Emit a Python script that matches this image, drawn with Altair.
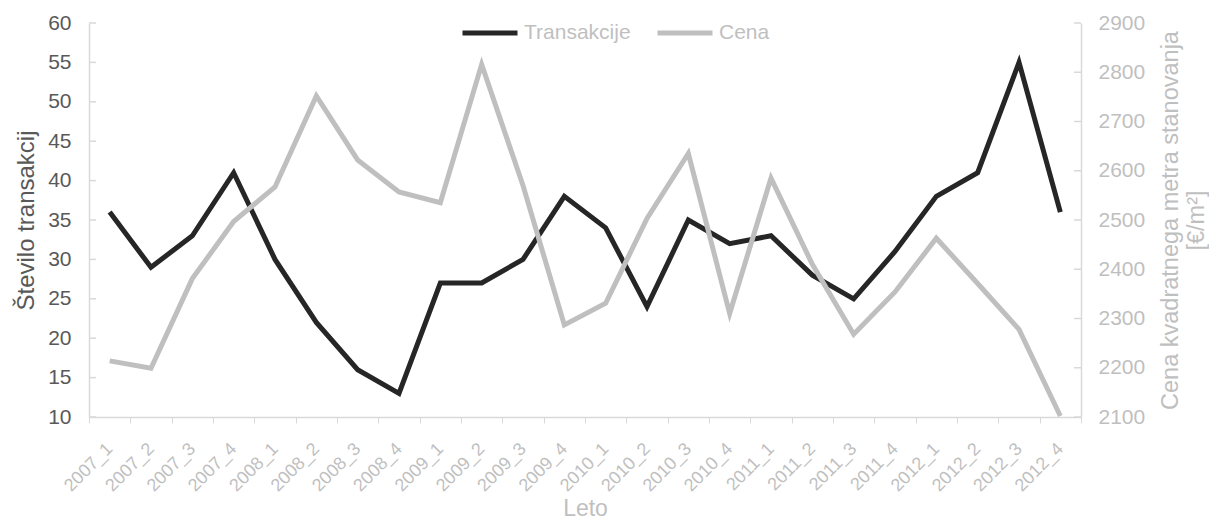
import altair as alt
import pandas as pd

# Quarterly periods 2007-2012
obdobja = [
    "2007_1", "2007_2", "2007_3", "2007_4",
    "2008_1", "2008_2", "2008_3", "2008_4",
    "2009_1", "2009_2", "2009_3", "2009_4",
    "2010_1", "2010_2", "2010_3", "2010_4",
    "2011_1", "2011_2", "2011_3", "2011_4",
    "2012_1", "2012_2", "2012_3", "2012_4",
]

# Number of transactions per quarter (left axis)
transakcije = [36, 29, 33, 41, 30, 22, 16, 13, 27, 27, 30, 38,
               34, 24, 35, 32, 33, 28, 25, 31, 38, 41, 55, 36]

# Price per square metre of dwelling, EUR/m2 (right axis)
cena = [2214, 2199, 2381, 2497, 2567, 2752, 2622, 2557, 2535, 2816, 2570, 2287,
        2331, 2503, 2635, 2310, 2585, 2410, 2268, 2354, 2463, 2371, 2278, 2102]

# Axis tick values of both value axes
levi_tiki = list(range(10, 61, 5))
desni_tiki = list(range(2100, 2901, 100))

serije = ["Transakcije", "Cena"]
barve = ["#262626", "#bfbfbf"]

df_t = pd.DataFrame({"obdobje": obdobja, "vrednost": transakcije, "serija": serije[0]})
df_c = pd.DataFrame({"obdobje": obdobja, "vrednost": cena, "serija": serije[1]})

FONT = "Liberation Sans"
AXIS_LINE = "#d9d9d9"
DARK_TEXT = "#595959"
LIGHT_TEXT = "#bfbfbf"
W, H = 992, 394
TICK = 7

levo_scale = alt.Scale(domain=[10, 60], nice=False, zero=False)
desno_scale = alt.Scale(domain=[2100, 2900], nice=False, zero=False)

x_enc = alt.X(
    "obdobje:N",
    sort=obdobja,
    scale=alt.Scale(type="band", domain=obdobja, paddingInner=0, paddingOuter=0),
    axis=alt.Axis(
        title="Leto",
        titleColor=LIGHT_TEXT,
        titleFontSize=23,
        titleFontWeight="normal",
        titleFont=FONT,
        titleBaseline="alphabetic",
        titleY=98,
        labelAngle=-45,
        labelAlign="right",
        labelBaseline="middle",
        labelColor=LIGHT_TEXT,
        labelFontSize=18,
        labelFont=FONT,
        labelPadding=23,
        tickBand="extent",
        tickSize=6,
        tickColor=AXIS_LINE,
        domainColor=AXIS_LINE,
        domainWidth=1.5,
    ),
)

color_enc = alt.Color(
    "serija:N",
    scale=alt.Scale(domain=serije, range=barve),
    legend=alt.Legend(
        title=None,
        orient="none",
        direction="horizontal",
        legendX=371,
        legendY=-20,
        symbolType="stroke",
        symbolSize=3025,
        symbolStrokeWidth=5,
        labelColor=LIGHT_TEXT,
        labelFontSize=21,
        labelFont=FONT,
        labelOffset=4,
        columnPadding=16,
    ),
)

line_t = alt.Chart(df_t).mark_line(strokeWidth=5, strokeJoin="miter").encode(
    x=x_enc,
    y=alt.Y(
        "vrednost:Q",
        scale=levo_scale,
        axis=alt.Axis(
            title="Število transakcij",
            titleColor=DARK_TEXT,
            titleFontSize=24,
            titleFontWeight="normal",
            titleFont=FONT,
            titlePadding=9,
            values=levi_tiki,
            format="d",
            labelColor=DARK_TEXT,
            labelFontSize=21,
            labelFont=FONT,
            labelPadding=18,
            tickSize=0,
            domainColor=AXIS_LINE,
            domainWidth=1.5,
            grid=False,
        ),
    ),
    color=color_enc,
)

line_c = alt.Chart(df_c).mark_line(strokeWidth=5, strokeJoin="miter").encode(
    x=x_enc,
    y=alt.Y(
        "vrednost:Q",
        scale=desno_scale,
        axis=alt.Axis(
            orient="right",
            title=["Cena kvadratnega metra stanovanja", "[€/m²]"],
            titleAngle=270,
            titleColor=LIGHT_TEXT,
            titleFontSize=23.5,
            titleFontWeight="normal",
            titleFont=FONT,
            titlePadding=12,
            titleLineHeight=26,
            values=desni_tiki,
            format="d",
            labelColor=LIGHT_TEXT,
            labelFontSize=21,
            labelFont=FONT,
            labelPadding=17,
            tickSize=0,
            domainColor=AXIS_LINE,
            domainWidth=1.5,
            grid=False,
        ),
    ),
    color=color_enc,
)

# Inward tick marks on both value axes
tiki_levo = alt.Chart(pd.DataFrame({"v": levi_tiki})).mark_rule(
    color=AXIS_LINE, strokeWidth=1.5
).encode(
    y=alt.Y("v:Q", scale=levo_scale, axis=None),
    x=alt.value(0),
    x2=alt.value(TICK),
)

tiki_desno = alt.Chart(pd.DataFrame({"v": desni_tiki})).mark_rule(
    color=AXIS_LINE, strokeWidth=1.5
).encode(
    y=alt.Y("v:Q", scale=desno_scale, axis=None),
    x=alt.value(W - TICK),
    x2=alt.value(W),
)

chart = (
    alt.layer(tiki_levo, tiki_desno, line_t, line_c)
    .resolve_scale(y="independent")
    .properties(
        width=W,
        height=H,
        autosize=alt.AutoSizeParams(type="none"),
        padding={"left": 89, "top": 23, "right": 128, "bottom": 102},
        background="white",
    )
    .configure_view(stroke=None)
)

chart.save("out.html", embed_options={"renderer": "svg", "actions": False})
